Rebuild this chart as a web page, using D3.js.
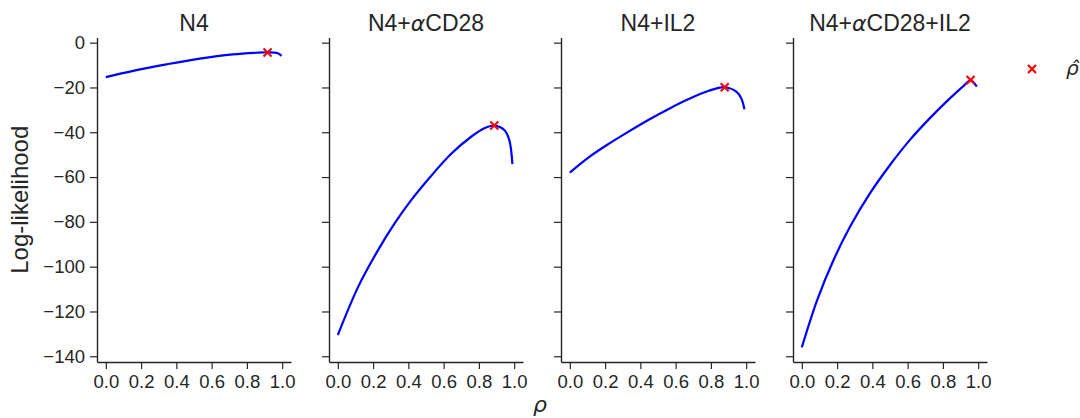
<!DOCTYPE html>
<html>
<head>
<meta charset="utf-8">
<script src="https://cdn.jsdelivr.net/npm/d3@7"></script>
<style>
  body { margin: 0; background: #fff; }
  svg text { font-family: "Liberation Sans", Arial, sans-serif; fill: #262626; }
  .axis path, .axis line { stroke: #262626; }
</style>
</head>
<body>
<div id="chart"></div>
<script>
// 各条件下的对数似然曲线
const panelTitles = ['N4', 'N4+|α|CD28', 'N4+IL2', 'N4+|α|CD28+IL2'];

const rhoN4 = [0, 0.155, 0.343, 0.532, 0.720, 0.85, 0.919, 0.975, 0.996];
const llN4 = [-15.4, -12.6, -9.7, -7.1, -5.2, -4.5, -4.3, -4.7, -5.9];

const rhoCD28 = [0, 0.116, 0.229, 0.323, 0.417, 0.530, 0.643, 0.756, 0.831, 0.887, 0.944, 0.972, 0.990];
const llCD28 = [-130.5, -108.9, -92.5, -80.6, -70.2, -59.4, -49.6, -42.0, -38.2, -37.0, -39.0, -43.4, -54.2];

const rhoIL2 = [0, 0.107, 0.220, 0.333, 0.445, 0.558, 0.671, 0.784, 0.878, 0.944, 0.972, 0.990];
const llIL2 = [-58.0, -51.2, -45.2, -39.7, -34.5, -29.7, -25.3, -21.6, -19.9, -21.9, -24.8, -29.7];

const rhoBoth = [0, 0.087, 0.180, 0.274, 0.387, 0.500, 0.613, 0.725, 0.838, 0.913, 0.957, 0.992];
const llBoth = [-136.0, -114.9, -97.0, -82.1, -67.2, -54.6, -43.4, -33.8, -25.0, -19.6, -16.8, -19.6];

// 最大似然估计点
const rhoHat = [0.917, 0.887, 0.878, 0.957];
const llHat = [-4.4, -37.0, -19.9, -16.7];

const xTicks = [0, 0.2, 0.4, 0.6, 0.8, 1.0];
const yTicks = [0, -20, -40, -60, -80, -100, -120, -140];

const series = [
    { rho: rhoN4, ll: llN4 },
    { rho: rhoCD28, ll: llCD28 },
    { rho: rhoIL2, ll: llIL2 },
    { rho: rhoBoth, ll: llBoth }
];

const config = {
    width: 1080,
    height: 418,
    left0: 97,
    step: 232,
    panelW: 194,
    top: 37.5,
    bottom: 362
};

const svg = d3.select('#chart').append('svg')
    .attr('width', config.width)
    .attr('height', config.height);

const y = d3.scaleLinear()
    .domain([-142.55, 2.3])
    .range([config.bottom, config.top]);

const tickFmt = d => d3.format('.0f')(d).replace('-', '\u2212');

series.forEach((s, i) => {
    const left = config.left0 + i * config.step;
    const x = d3.scaleLinear()
        .domain([-0.05, 1.05])
        .range([left, left + config.panelW]);

    const g = svg.append('g');

    // y 轴（只有第一个面板显示刻度标签）
    const yAxis = d3.axisLeft(y)
        .tickValues(yTicks)
        .tickSize(7)
        .tickPadding(5)
        .tickSizeOuter(0)
        .tickFormat(i === 0 ? tickFmt : '');
    g.append('g')
        .attr('class', 'axis')
        .attr('transform', `translate(${left},0)`)
        .call(yAxis)
        .call(a => a.select('.domain').attr('stroke-width', 1.4))
        .call(a => a.selectAll('line').attr('stroke-width', 1.2))
        .call(a => a.selectAll('text').attr('font-size', 18.5).attr('fill', '#262626'));

    const xAxis = d3.axisBottom(x)
        .tickValues(xTicks)
        .tickSize(7)
        .tickPadding(6)
        .tickSizeOuter(0)
        .tickFormat(d3.format('.1f'));
    g.append('g')
        .attr('class', 'axis')
        .attr('transform', `translate(0,${config.bottom})`)
        .call(xAxis)
        .call(a => a.select('.domain').attr('stroke-width', 1.4))
        .call(a => a.selectAll('line').attr('stroke-width', 1.2))
        .call(a => a.selectAll('text').attr('font-size', 18.5).attr('fill', '#262626'));

    // 标题, α 用斜体
    const title = g.append('text')
        .attr('x', left + config.panelW / 2)
        .attr('y', 31)
        .attr('text-anchor', 'middle')
        .attr('font-size', 23);
    panelTitles[i].split('|').forEach(part => {
        const t = title.append('tspan').text(part);
        if (part === 'α') t.attr('font-style', 'italic').style('font-family', 'DejaVu Sans').attr('font-size', 22);
    });

    const pts = s.rho.map((r, k) => [r, s.ll[k]]);
    const line = d3.line()
        .x(d => x(d[0]))
        .y(d => y(d[1]))
        .curve(d3.curveCatmullRom.alpha(0.5));

    g.append('path')
        .datum(pts)
        .attr('fill', 'none')
        .attr('stroke', '#0000ff')
        .attr('stroke-width', 2.2)
        .attr('d', line);

    drawCross(g, x(rhoHat[i]), y(llHat[i]));
});

function drawCross(g, cx, cy) {
    const r = 4;
    g.append('path')
        .attr('d', `M${cx - r},${cy - r}L${cx + r},${cy + r}M${cx - r},${cy + r}L${cx + r},${cy - r}`)
        .attr('stroke', '#ff0000')
        .attr('stroke-width', 2.2)
        .attr('fill', 'none');
}

// 轴标签
svg.append('text')
    .attr('transform', `translate(28,${(config.top + config.bottom) / 2}) rotate(-90)`)
    .attr('text-anchor', 'middle')
    .attr('font-size', 24)
    .text('Log-likelihood');

svg.append('text')
    .attr('x', 540)
    .attr('y', 412)
    .attr('text-anchor', 'middle')
    .attr('font-style', 'italic')
    .attr('font-size', 22)
    .style('font-family', 'DejaVu Sans')
    .text('ρ');

// 图例
drawCross(svg, 1032, 69);
svg.append('text')
    .attr('x', 1066)
    .attr('y', 75)
    .attr('font-size', 20)
    .attr('font-style', 'italic')
    .style('font-family', 'DejaVu Sans')
    .text('ρ\u0302');
</script>
</body>
</html>
